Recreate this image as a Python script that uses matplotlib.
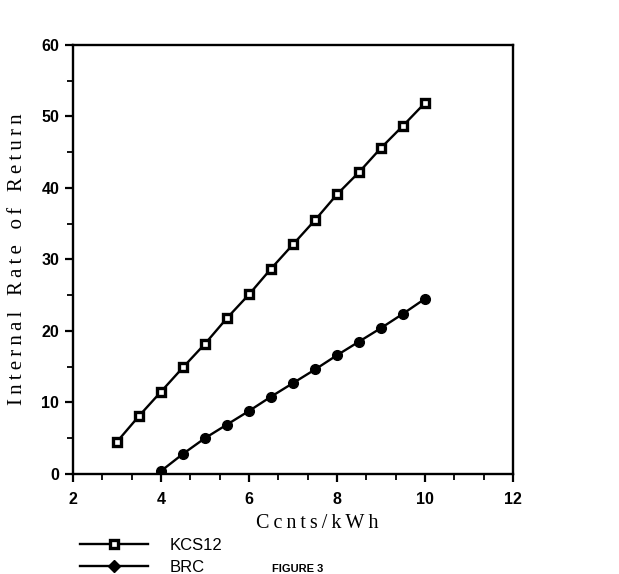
import matplotlib
matplotlib.use("Agg")
import matplotlib.pyplot as plt
from matplotlib.font_manager import FontProperties
from matplotlib.ticker import MultipleLocator, AutoMinorLocator
from matplotlib.lines import Line2D

# data
cents_kcs = [3.0, 3.5, 4.0, 4.5, 5.0, 5.5, 6.0, 6.5, 7.0, 7.5, 8.0, 8.5, 9.0, 9.5, 10.0]
irr_kcs = [4.5, 8.1, 11.5, 14.9, 18.2, 21.8, 25.1, 28.7, 32.1, 35.5, 39.1, 42.2, 45.6, 48.7, 51.9]
cents_brc = [4.0, 4.5, 5.0, 5.5, 6.0, 6.5, 7.0, 7.5, 8.0, 8.5, 9.0, 9.5, 10.0]
irr_brc = [0.4, 2.8, 5.0, 6.9, 8.8, 10.8, 12.7, 14.6, 16.6, 18.5, 20.4, 22.4, 24.5]


def spaced(s):
    # old typewriter look: a thin space between every letter
    return "\u2009".join(s)


fig = plt.figure(figsize=(6.19, 5.74), dpi=100)
ax = fig.add_axes([0.118, 0.1745, 0.711, 0.7474])

kcs_style = dict(color="black", lw=1.7, marker="s", markersize=6,
                 markerfacecolor="white", markeredgecolor="black", markeredgewidth=2.4)
brc_style = dict(color="black", lw=1.7, marker="o", markersize=7,
                 markerfacecolor="black", markeredgecolor="black")
ax.plot(cents_kcs, irr_kcs, **kcs_style)
ax.plot(cents_brc, irr_brc, **brc_style)

ax.set_xlim(2, 12)
ax.set_ylim(0, 60)
ax.xaxis.set_major_locator(MultipleLocator(2))
ax.yaxis.set_major_locator(MultipleLocator(10))
ax.xaxis.set_minor_locator(AutoMinorLocator(3))
ax.yaxis.set_minor_locator(AutoMinorLocator(2))
ax.tick_params(which="major", direction="out", length=6, width=1.6, pad=4)
ax.tick_params(axis="x", which="major", pad=7)
ax.tick_params(which="minor", direction="out", length=4, width=1.3)
ax.tick_params(top=False, right=False)
for s in ax.spines.values():
    s.set_linewidth(1.7)

tick_font = FontProperties(family="Liberation Sans", weight="bold", size=11.5)
for lab in ax.get_xticklabels() + ax.get_yticklabels():
    lab.set_fontproperties(tick_font)

ax.set_xlabel(spaced("Ccnts/kWh"), family="Liberation Serif", size=14.5)
ax.xaxis.set_label_coords(0.555, -0.093)
ax.set_ylabel("   ".join(spaced(w) for w in ["Internal", "Rate", "of", "Return"]),
              family="Liberation Serif", size=15, labelpad=10)

handles = [
    Line2D([0], [0], **kcs_style),
    Line2D([0], [0], color="black", lw=1.7, marker="D", markersize=6.5,
           markerfacecolor="black", markeredgecolor="black"),
]
fig.legend(handles, ["KCS12", "BRC"], loc="upper left", bbox_to_anchor=(0.105, 0.089),
           frameon=False, handlelength=4.1, handletextpad=1.3, labelspacing=0.4,
           prop=dict(family="Liberation Sans", size=12))

fig.text(0.44, 0.0, "FIGURE 3", family="Liberation Sans", weight="bold",
         size=8, va="bottom")

fig.savefig("out.png", dpi=100)
